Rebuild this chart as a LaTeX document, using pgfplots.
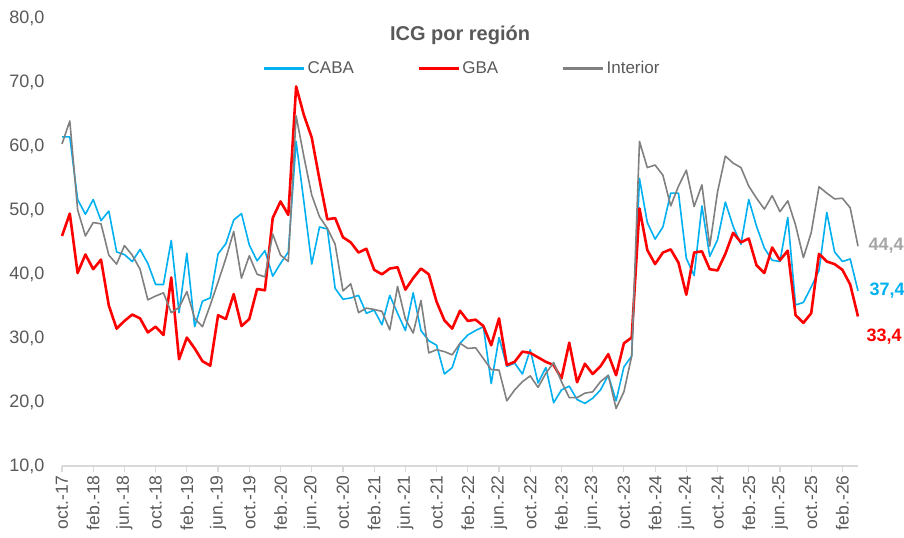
\documentclass[border=0pt]{standalone}
\usepackage{pgfplots}
\usepackage{pgfplotstable}
\pgfplotsset{compat=1.18}
\usepackage{fontspec}
\setmainfont{Liberation Sans}
\definecolor{cabablue}{HTML}{00B0F0}
\definecolor{gbared}{HTML}{FF0000}
\definecolor{intgray}{HTML}{808080}
\definecolor{labgray}{HTML}{A6A6A6}
\definecolor{txtgray}{HTML}{595959}
\definecolor{axgray}{HTML}{D9D9D9}
\pgfplotstableread{
i caba gba int
0 61.5 46.0 60.4
1 61.5 49.5 64.0
2 51.7 40.2 50.1
3 49.4 43.1 46.0
4 51.7 40.8 48.1
5 48.4 42.3 47.9
6 49.9 35.1 43.0
7 43.5 31.5 41.6
8 43.1 32.7 44.5
9 42.0 33.7 43.0
10 43.9 33.1 40.8
11 41.7 30.9 36.0
12 38.4 31.8 36.6
13 38.4 30.5 37.1
14 45.3 39.5 34.0
15 34.0 26.7 34.8
16 43.3 30.1 37.3
17 31.8 28.4 33.1
18 35.8 26.4 31.8
19 36.3 25.7 35.2
20 43.2 33.6 38.8
21 44.8 33.0 42.5
22 48.5 36.9 46.7
23 49.5 31.9 39.4
24 44.6 33.0 42.9
25 42.1 37.7 40.0
26 43.7 37.5 39.6
27 39.7 48.8 46.3
28 41.7 51.4 43.0
29 43.5 49.3 42.0
30 60.8 69.4 64.8
31 51.3 64.9 58.4
32 41.6 61.4 52.4
33 47.4 54.8 49.0
34 47.1 48.6 47.2
35 37.8 48.8 44.7
36 36.1 45.8 37.4
37 36.3 45.0 38.5
38 36.7 43.4 34.0
39 33.9 44.0 34.7
40 34.4 40.7 34.5
41 32.1 40.0 34.2
42 36.7 40.9 31.3
43 33.9 41.1 38.1
44 31.2 37.6 33.0
45 37.1 39.4 30.8
46 31.2 40.9 35.9
47 29.6 40.0 27.7
48 28.9 35.7 28.2
49 24.4 32.8 27.9
50 25.4 31.5 27.4
51 29.2 34.3 29.2
52 30.5 32.7 28.4
53 31.2 32.9 28.5
54 31.8 31.9 26.8
55 22.9 28.9 25.1
56 30.1 33.1 25.0
57 25.6 25.8 20.2
58 26.1 26.3 21.9
59 24.4 27.9 23.2
60 28.2 27.7 24.1
61 23.0 27.0 22.3
62 25.4 26.3 24.5
63 19.9 25.8 26.2
64 21.9 23.7 23.2
65 22.5 29.3 20.7
66 20.4 23.1 20.7
67 19.8 26.0 21.4
68 20.6 24.4 21.6
69 21.9 25.6 23.2
70 24.2 27.5 24.2
71 20.2 24.2 19.0
72 25.5 29.2 21.6
73 27.2 30.1 27.2
74 55.0 50.3 60.8
75 48.1 43.8 56.7
76 45.5 41.6 57.1
77 47.4 43.4 55.5
78 52.7 43.9 50.7
79 52.7 41.8 53.8
80 42.5 36.8 56.3
81 39.8 43.4 50.6
82 50.7 43.6 54.0
83 42.8 40.8 44.4
84 45.4 40.6 52.9
85 51.3 43.2 58.5
86 47.5 46.5 57.4
87 44.7 45.0 56.7
88 51.7 45.6 53.8
89 47.5 41.4 51.9
90 44.1 40.2 50.2
91 42.2 44.2 52.3
92 42.0 42.2 49.8
93 48.9 43.7 51.5
94 35.2 33.6 47.7
95 35.6 32.4 42.6
96 38.0 33.9 46.5
97 40.6 43.2 53.7
98 49.7 42.0 52.7
99 43.5 41.6 51.8
100 42.0 40.7 51.9
101 42.4 38.4 50.4
102 37.4 33.4 44.4
}\datatable
\begin{document}
\begin{tikzpicture}
\useasboundingbox (-62bp,-72bp) rectangle (842bp,466bp);
\begin{axis}[
  at={(0,0)}, anchor=south west,
  scale only axis, width=796bp, height=447.3bp,
  xmin=0, xmax=102, ymin=10, ymax=80,
  clip=false,
  axis x line*=bottom, axis y line*=left,
  x axis line style={draw=axgray, line width=1.2bp},
  y axis line style={draw=none},
  xtick={0,4,...,100},
  xticklabels={oct.-17,feb.-18,jun.-18,oct.-18,feb.-19,jun.-19,oct.-19,feb.-20,jun.-20,oct.-20,feb.-21,jun.-21,oct.-21,feb.-22,jun.-22,oct.-22,feb.-23,jun.-23,oct.-23,feb.-24,jun.-24,oct.-24,feb.-25,jun.-25,oct.-25,feb.-26},
  ytick={10,20,...,80},
  tick align=outside,
  major tick length=6bp,
  xtick style={draw=axgray, line width=1.2bp},
  ytick style={draw=none},
  /pgf/number format/assume math mode=true,
  yticklabel={\pgfmathprintnumber[fixed,fixed zerofill,precision=1,use comma]{\tick}},
  yticklabel style={font=\fontsize{18bp}{20bp}\selectfont, text=txtgray, anchor=east, xshift=-8bp},
  xticklabel style={font=\fontsize{17.5bp}{20bp}\selectfont, text=txtgray, rotate=90, anchor=east, yshift=0bp},
  every axis title shift=0pt,
  title={ICG por región},
  title style={at={(0.5,0.963)}, anchor=center, font=\fontsize{20bp}{24bp}\bfseries, text=txtgray},
  legend columns=3,
  legend style={at={(0.503,0.889)}, anchor=center, draw=none, fill=none,
    font=\fontsize{17bp}{20bp}\selectfont, text=txtgray,
    /tikz/every even column/.append style={column sep=62bp}},
  legend image code/.code={\draw[#1, line width=2.4bp] (0bp,0bp) -- (40bp,0bp);},
  every axis plot/.append style={line join=round},
]
\addplot[cabablue, line width=1.6bp] table[x=i, y=caba] {\datatable};
\addlegendentry{CABA}
\addplot[gbared, line width=2.6bp] table[x=i, y=gba] {\datatable};
\addlegendentry{GBA}
\addplot[intgray, line width=1.6bp] table[x=i, y=int] {\datatable};
\addlegendentry{Interior}
\node[anchor=west, xshift=7bp, text=labgray, font=\fontsize{18bp}{20bp}\bfseries] at (axis cs:102,44.4) {44,4};
\node[anchor=west, xshift=8bp, text=cabablue, font=\fontsize{18bp}{20bp}\bfseries] at (axis cs:102,37.4) {37,4};
\node[anchor=west, xshift=5bp, text=gbared, font=\fontsize{18bp}{20bp}\bfseries] at (axis cs:102,30.2) {33,4};
\end{axis}
\end{tikzpicture}
\end{document}
